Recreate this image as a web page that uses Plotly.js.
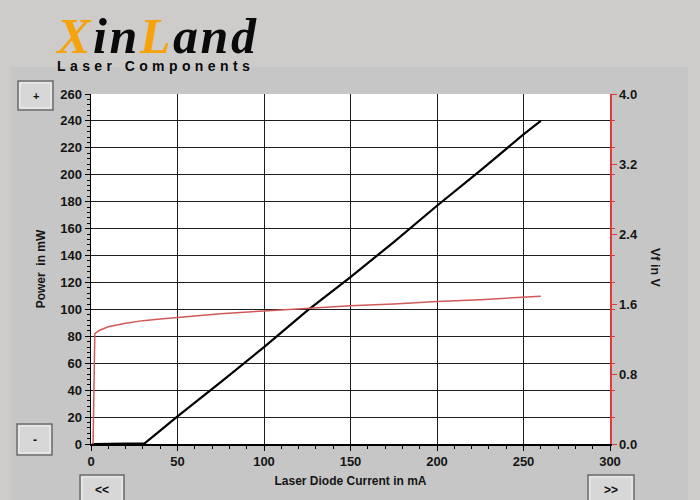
<!DOCTYPE html>
<html>
<head>
<meta charset="utf-8">
<script src="https://cdn.plot.ly/plotly-3.0.1.min.js"></script>
<style>html,body{margin:0;padding:0;background:#cecbcb;}#chart{width:700px;height:500px;}</style>
</head>
<body>
<div id="chart"></div>
<script>
// ---- data ----
const powerCurrent = [0.5, 10, 20, 30, 31, 40, 50, 75, 100, 125, 150, 175, 200, 225, 250, 260];
const powerValues  = [0,   0,  0,  0,  0.5, 10, 20.5, 46, 72, 99, 124, 150, 177, 203, 230, 240];

const vfCurrent = [1.2, 1.5, 1.8, 2.2, 5,    10,   20,   30,   40,   51,   75,   100,  125,  150,  175,  200,  225,  250,  260];
const vfValues  = [0,   0.45, 0.47, 1.26, 1.30, 1.34, 1.38, 1.41, 1.43, 1.45, 1.49, 1.52, 1.55, 1.58, 1.60, 1.63, 1.65, 1.68, 1.69];

const xTicks  = [0, 50, 100, 150, 200, 250, 300];
const yTicks  = [0, 20, 40, 60, 80, 100, 120, 140, 160, 180, 200, 220, 240, 260];
const y2Ticks = [0, 0.8, 1.6, 2.4, 3.2, 4.0];

const xTitle  = 'Laser Diode Current in mA';
const yTitle  = 'Power  in mW';
const y2Title = 'Vf in V';

// ---- layout helpers (pixel -> paper) ----
const L = 91, R = 610, T = 94, B = 444;
const px = v => (v - L) / (R - L);
const py = v => (B - v) / (B - T);
const SANS = 'Liberation Sans, Arial, sans-serif';
const bold = {family: SANS, size: 13, color: '#151515', weight: 'bold'};

function button(x0, x1, y0, y1) {
  return [
    {type:'rect', xref:'paper', yref:'paper', x0:px(x0), x1:px(x1), y0:py(y0), y1:py(y1),
     fillcolor:'#d7d7d7', line:{color:'#6c6c6c', width:1.5}, layer:'below'},
    {type:'rect', xref:'paper', yref:'paper', x0:px(x0+2), x1:px(x1-2), y0:py(y0+2), y1:py(y1-2),
     fillcolor:'rgba(0,0,0,0)', line:{color:'#f2f2f2', width:1}, layer:'below'}
  ];
}
function label(x, y, text, size) {
  return {xref:'paper', yref:'paper', x:px(x), y:py(y), xanchor:'center', yanchor:'middle',
          showarrow:false, text:text, font:{family:SANS, size:size, color:'#111', weight:'bold'}};
}

const traces = [
  {x: powerCurrent, y: powerValues, type:'scatter', mode:'lines', name:'Power',
   line:{color:'#000000', width:2.2}, xaxis:'x', yaxis:'y'},
  {x: vfCurrent, y: vfValues, type:'scatter', mode:'lines', name:'Vf',
   line:{color:'#d05a5a', width:1.5}, xaxis:'x', yaxis:'y2'}
];

const shapes = [
  {type:'rect', xref:'paper', yref:'paper', x0:px(11), x1:px(688), y0:py(67), y1:py(505),
   fillcolor:'#c6c6c6', line:{width:0}, layer:'below'},
  {type:'rect', xref:'paper', yref:'paper', x0:0, x1:1, y0:0, y1:1,
   fillcolor:'#ffffff', line:{width:0}, layer:'below'},
  ...button(18, 53, 81, 110),
  ...button(17, 52, 424, 455),
  ...button(80, 124, 475, 512),
  ...button(588, 634, 475, 512)
];

const logoText =
  '<span style="font-size:50px;font-family:Liberation Serif,Times New Roman,serif;font-style:italic;letter-spacing:2.6px">' +
  '<span style="color:#f5a30a">X</span>in<span style="color:#f5a30a">L</span>and</span>' +
  '<br><span style="letter-spacing:4.4px">Laser Components</span>';

const annotations = [
  {xref:'paper', yref:'paper', x:px(53), y:py(76), xanchor:'left', yanchor:'bottom', showarrow:false,
   align:'left', text:logoText,
   font:{family:SANS, size:14, color:'#0a0a0a', weight:'bold'}},
  {xref:'paper', yref:'paper', x:px(655), y:py(268), xanchor:'center', yanchor:'middle', showarrow:false,
   text:y2Title, textangle:90, font:{family:SANS, size:12.5, color:'#151515', weight:'bold'}},
  label(35.5, 96, '+', 11),
  label(34.5, 439.5, '-', 12),
  label(102, 490, '<<', 12),
  label(611, 490, '>>', 12)
];

const layout = {
  width:700, height:500,
  margin:{l:L, r:700-R, t:T, b:500-B, pad:0},
  paper_bgcolor:'#cecbcb', plot_bgcolor:'#ffffff',
  showlegend:false,
  xaxis:{range:[0,300], tickmode:'array', tickvals:xTicks, ticktext:xTicks.map(String),
         showgrid:true, gridcolor:'#1e1e1e', gridwidth:1, zeroline:false,
         showline:true, linecolor:'#000', linewidth:1.5,
         ticks:'outside', ticklen:5, tickcolor:'#000', tickwidth:1,
         minor:{dtick:10, tick0:0, ticks:'outside', ticklen:3, tickcolor:'#000', showgrid:false},
         tickfont:bold, fixedrange:true,
         title:{text:xTitle, font:{family:SANS, size:12, color:'#151515', weight:'bold'}, standoff:8}},
  yaxis:{range:[0,260], tickmode:'array', tickvals:yTicks, ticktext:yTicks.map(String),
         showgrid:true, gridcolor:'#1e1e1e', gridwidth:1, zeroline:false,
         showline:true, linecolor:'#000', linewidth:1.5,
         ticks:'outside', ticklen:5, tickcolor:'#000', tickwidth:1,
         minor:{dtick:4, tick0:0, ticks:'outside', ticklen:3, tickcolor:'#000', showgrid:false},
         tickfont:bold, fixedrange:true,
         title:{text:yTitle, font:{family:SANS, size:12, color:'#151515', weight:'bold'}, standoff:12}},
  yaxis2:{range:[0,4], overlaying:'y', side:'right', tickmode:'array', tickvals:y2Ticks,
          ticktext:y2Ticks.map(v => v.toFixed(1)),
          showgrid:false, zeroline:false, showline:true, linecolor:'#e03a3a', linewidth:1.5,
          ticks:'outside', ticklen:5, tickcolor:'#e03a3a', tickwidth:1,
          minor:{dtick:4/13, tick0:0, ticks:'outside', ticklen:3, tickcolor:'#e03a3a', showgrid:false},
          tickfont:bold, fixedrange:true},
  shapes:shapes,
  annotations:annotations
};

Plotly.newPlot('chart', traces, layout, {displayModeBar:false, staticPlot:true});
</script>
</body>
</html>
